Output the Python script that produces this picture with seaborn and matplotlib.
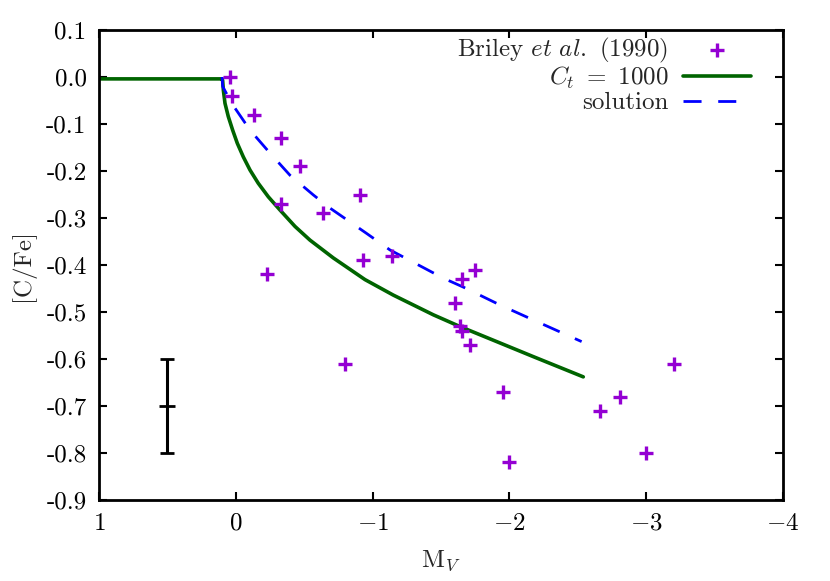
import numpy as np
import pandas as pd
import matplotlib
matplotlib.use("Agg")
import matplotlib.pyplot as plt
import seaborn as sns

# Briley et al. (1990) observations
obs_mv = [0.04, 0.03, -0.13, -0.33, -0.47, -0.91, -0.33, -0.64, -0.93, -1.14, -0.23,
          -1.75, -1.65, -1.60, -1.64, -1.65, -1.71, -0.80, -1.95, -2.00, -2.66, -2.81,
          -3.20, -3.00]
obs_cfe = [0.00, -0.04, -0.08, -0.13, -0.19, -0.25, -0.27, -0.29, -0.39, -0.38, -0.42,
           -0.41, -0.43, -0.48, -0.53, -0.54, -0.57, -0.61, -0.67, -0.82, -0.71, -0.68,
           -0.61, -0.80]

# C_t = 1000 model
ct_mv = [1.0, 0.10, 0.096, 0.091, 0.079, 0.055, 0.023, -0.011, -0.055, -0.104, -0.164,
         -0.238, -0.323, -0.433, -0.542, -0.713, -0.944, -1.151, -1.444, -1.639, -1.882,
         -2.175, -2.54]
ct_cfe = [-0.004, -0.004, -0.008, -0.028, -0.056, -0.084, -0.113, -0.141, -0.170, -0.198,
          -0.226, -0.255, -0.283, -0.318, -0.347, -0.385, -0.431, -0.464, -0.506, -0.531,
          -0.56, -0.595, -0.638]

# solution
sol_mv = [0.10, 0.096, 0.03, -0.104, -0.25, -0.396, -0.567, -0.689, -0.957, -1.127,
          -1.517, -1.663, -1.931, -2.175, -2.528]
sol_cfe = [0.0, -0.02, -0.056, -0.113, -0.162, -0.209, -0.251, -0.279, -0.333, -0.368,
           -0.428, -0.447, -0.485, -0.517, -0.563]

# typical error bar
err_mv = [0.5]
err_cfe = [-0.70]
err_size = [0.10]

x_ticks = [1, 0, -1, -2, -3, -4]
x_ticklabels = ["$1$", "$0$", "$-1$", "$-2$", "$-3$", "$-4$"]
y_ticks = [0.1, 0.0, -0.1, -0.2, -0.3, -0.4, -0.5, -0.6, -0.7, -0.8, -0.9]
y_ticklabels = ["0.1", "0.0", "-0.1", "-0.2", "-0.3", "-0.4", "-0.5", "-0.6", "-0.7", "-0.8", "-0.9"]

sns.set_style("ticks")
plt.rcParams["font.family"] = ["cmr10", "DejaVu Serif"]
plt.rcParams["mathtext.fontset"] = "cm"
plt.rcParams["axes.unicode_minus"] = False
plt.rcParams["axes.formatter.use_mathtext"] = True

FS = 18

fig = plt.figure(figsize=(8.3, 5.81), dpi=100)
ax = fig.add_axes([99/830, 1 - 500/581, (783-99)/830, (500-30)/581])

df_obs = pd.DataFrame({"mv": obs_mv, "cfe": obs_cfe})
df_ct = pd.DataFrame({"mv": ct_mv, "cfe": ct_cfe})
df_sol = pd.DataFrame({"mv": sol_mv, "cfe": sol_cfe})

sns.scatterplot(data=df_obs, x="mv", y="cfe", ax=ax, marker="+", s=110, linewidth=2.4,
                color="#9400D3", label=r"Briley $\mathit{et\ al.}$ (1990)", zorder=5)
sns.lineplot(data=df_ct, x="mv", y="cfe", ax=ax, sort=False, estimator=None,
             color="#006400", linewidth=2.6, label=r"$C_t\ =\ 1000$")
sns.lineplot(data=df_sol, x="mv", y="cfe", ax=ax, sort=False, estimator=None,
             color="#0000FF", linewidth=2.0, label="solution")
ax.lines[-1].set_dashes([6.5, 6])

ax.errorbar(err_mv, err_cfe, yerr=err_size, fmt="_", color="black", ms=12, mew=2,
            elinewidth=2.2, capsize=5, capthick=2)

ax.set_xlim(1, -4)
ax.set_ylim(-0.9, 0.1)
ax.set_xticks(x_ticks)
ax.set_xticklabels(x_ticklabels)
ax.set_yticks(y_ticks)
ax.set_yticklabels(y_ticklabels)
ax.tick_params(direction="in", length=6, width=1.5, top=True, right=True,
               labelsize=FS, pad=9, colors="black")
for sp in ax.spines.values():
    sp.set_linewidth(2)
    sp.set_color("black")
    sp.set_visible(True)
ax.set_xlabel(r"$\mathrm{M}_V$", fontsize=FS, labelpad=10)
ax.set_ylabel("[C/Fe]", fontsize=FS, labelpad=8)

leg = ax.legend(loc="upper right", bbox_to_anchor=(0.975, 1.02), frameon=False,
                markerfirst=False, fontsize=FS, handlelength=2.7, handletextpad=0.6,
                labelspacing=0.02, borderaxespad=0.2)
for t in leg.get_texts():
    t.set_ha("right")
leg._legend_box.align = "right"

fig.savefig("out.png", dpi=100)
